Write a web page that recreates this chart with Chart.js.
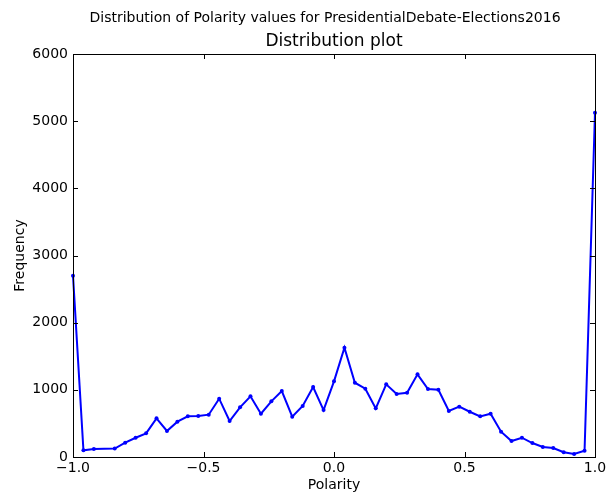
<!DOCTYPE html>
<html>
<head>
<meta charset="utf-8">
<script src="https://cdn.jsdelivr.net/npm/chart.js@4/dist/chart.umd.min.js"></script>
<style>
  html, body { margin: 0; padding: 0; background: #fff; }
  #wrap { width: 615px; height: 496px; position: relative; }
</style>
</head>
<body>
<div id="wrap"><canvas id="c" width="615" height="496"></canvas></div>
<script>
// Polarity bins (left edges) and the number of tweets in each
const polarity = [-1.00, -0.96, -0.92, -0.84, -0.80, -0.76, -0.72, -0.68, -0.64, -0.60,
  -0.56, -0.52, -0.48, -0.44, -0.40, -0.36, -0.32, -0.28, -0.24, -0.20,
  -0.16, -0.12, -0.08, -0.04, 0.00, 0.04, 0.08, 0.12, 0.16, 0.20,
  0.24, 0.28, 0.32, 0.36, 0.40, 0.44, 0.48, 0.52, 0.56, 0.60,
  0.64, 0.68, 0.72, 0.76, 0.80, 0.84, 0.88, 0.92, 0.96, 1.00];
const frequency = [2700, 100, 120, 125, 213, 287, 352, 576, 387, 526,
  605, 610, 630, 868, 536, 740, 903, 644, 829, 982,
  600, 759, 1042, 699, 1126, 1627, 1106, 1017, 724, 1082,
  938, 957, 1231, 1012, 1002, 685, 749, 674, 605, 644,
  377, 238, 287, 208, 149, 134, 70, 45, 94, 5124];
const xTicks = [-1.0, -0.5, 0.0, 0.5, 1.0];
const yTicks = [0, 1000, 2000, 3000, 4000, 5000, 6000];

const figTitle = 'Distribution of Polarity values for PresidentialDebate-Elections2016';
const axTitle = 'Distribution plot';
const xLabel = 'Polarity';
const yLabel = 'Frequency';

const FONT = '"DejaVu Sans", sans-serif';

function fmtX(v) {
  const s = v.toFixed(1);
  return s.replace('-', '\u2212');
}

// Inward ticks on all four sides, plus figure and axes titles
const decor = {
  id: 'decor',
  afterDraw(chart) {
    const ctx = chart.ctx;
    const a = chart.chartArea;
    const xs = chart.scales.x, ys = chart.scales.y;
    const L = 5;
    ctx.save();
    ctx.strokeStyle = '#000';
    ctx.lineWidth = 1;
    ctx.beginPath();
    xTicks.forEach(t => {
      const px = Math.round(xs.getPixelForValue(t)) + 0.5;
      ctx.moveTo(px, a.bottom); ctx.lineTo(px, a.bottom - L);
      ctx.moveTo(px, a.top); ctx.lineTo(px, a.top + L);
    });
    yTicks.forEach(t => {
      const py = Math.round(ys.getPixelForValue(t)) + 0.5;
      ctx.moveTo(a.left, py); ctx.lineTo(a.left + L, py);
      ctx.moveTo(a.right, py); ctx.lineTo(a.right - L, py);
    });
    ctx.stroke();
    ctx.strokeRect(Math.round(a.left) + 0.5, Math.round(a.top) + 0.5,
      Math.round(a.right - a.left), Math.round(a.bottom - a.top));

    ctx.fillStyle = '#000';
    ctx.textAlign = 'center';
    ctx.textBaseline = 'middle';
    ctx.font = '14px ' + FONT;
    ctx.fillText(figTitle, 325, 18);
    ctx.font = '17px ' + FONT;
    ctx.fillText(axTitle, (a.left + a.right) / 2, 42);
    ctx.restore();
  }
};

new Chart(document.getElementById('c'), {
  type: 'line',
  data: {
    datasets: [{
      data: polarity.map((p, i) => ({ x: p, y: frequency[i] })),
      borderColor: '#0000ff',
      backgroundColor: '#0000ff',
      borderWidth: 2,
      pointRadius: 2,
      pointBorderWidth: 0,
      pointBackgroundColor: '#0000ff',
      tension: 0,
      clip: false
    }]
  },
  options: {
    responsive: false,
    animation: false,
    devicePixelRatio: 1,
    layout: { padding: { top: 54, right: 20, left: 0, bottom: 0 } },
    plugins: { legend: { display: false }, tooltip: { enabled: false }, title: { display: false } },
    scales: {
      x: {
        type: 'linear',
        min: -1, max: 1,
        afterFit(s) { s.height = 39; },
        afterBuildTicks(s) { s.ticks = xTicks.map(v => ({ value: v })); },
        grid: { display: false, drawTicks: false },
        border: { display: false },
        ticks: {
          color: '#000', padding: 3,
          font: { family: FONT, size: 14 },
          maxRotation: 0,
          callback: v => fmtX(v)
        },
        title: {
          display: true, text: xLabel, color: '#000',
          font: { family: FONT, size: 14 }, padding: { top: 0, bottom: 2 }
        }
      },
      y: {
        min: 0, max: 6000,
        afterFit(s) { s.width = 73; },
        afterBuildTicks(s) { s.ticks = yTicks.map(v => ({ value: v })); },
        grid: { display: false, drawTicks: false },
        border: { display: false },
        ticks: {
          color: '#000', padding: 5,
          font: { family: FONT, size: 14 },
          callback: v => String(v)
        },
        title: {
          display: true, text: yLabel, color: '#000',
          font: { family: FONT, size: 14 }, padding: { top: 12, bottom: 4 }
        }
      }
    }
  },
  plugins: [decor]
});
</script>
</body>
</html>
